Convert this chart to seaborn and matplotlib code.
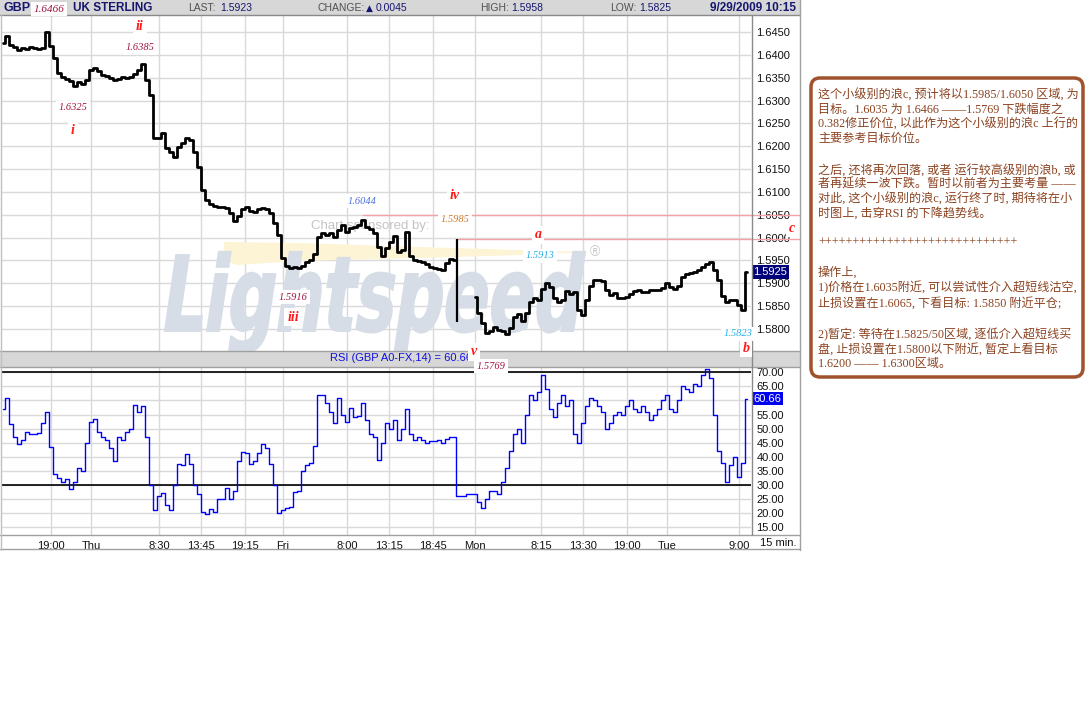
import matplotlib
matplotlib.use("Agg")
import numpy as np
import pandas as pd
import matplotlib.pyplot as plt
import seaborn as sns
from matplotlib import font_manager as fm
from matplotlib.patches import Rectangle, FancyBboxPatch, Polygon, PathPatch
from matplotlib.lines import Line2D
from matplotlib.textpath import TextPath
from matplotlib.font_manager import FontProperties
from matplotlib.transforms import Affine2D, blended_transform_factory

# ---------------- data ----------------
# chart clock: hours since Wed 00:00, weekend removed (Mon 00:00 -> 72)
wed_fri_start = 13.0
mon_tue_start = 72.0
bar_step = 0.5  # 30-minute samples

price_wed_fri = [
    1.6426, 1.6442, 1.6422, 1.6417, 1.6411, 1.6415, 1.6413, 1.6417, 1.6415, 1.6413,
    1.6415, 1.6450, 1.6420, 1.6393, 1.6360, 1.6352, 1.6347, 1.6343, 1.6332, 1.6341,
    1.6336, 1.6345, 1.6367, 1.6371, 1.6365, 1.6356, 1.6354, 1.6349, 1.6345, 1.6347,
    1.6352, 1.6349, 1.6352, 1.6358, 1.6367, 1.6380, 1.6345, 1.6312, 1.6218, 1.6218,
    1.6229, 1.6196, 1.6187, 1.6176, 1.6198, 1.6207, 1.6218, 1.6214, 1.6187, 1.6155,
    1.6104, 1.6082, 1.6074, 1.6069, 1.6067, 1.6067, 1.6065, 1.6054, 1.6036, 1.6047,
    1.6063, 1.6067, 1.6058, 1.6056, 1.6063, 1.6065, 1.6063, 1.6054, 1.6032, 1.6006,
    1.5955, 1.5938, 1.5933, 1.5936, 1.5933, 1.5938, 1.5947, 1.5951, 1.5964, 1.6001,
    1.6010, 1.6006, 1.6010, 1.6001, 1.6017, 1.6028, 1.6012, 1.6021, 1.6023, 1.6028,
    1.6039, 1.6023, 1.6019, 1.6010, 1.5980, 1.5960, 1.5977, 1.5990, 1.6003, 1.5968,
    1.5973, 1.6012, 1.5960, 1.5951, 1.5949, 1.5947, 1.5942, 1.5936, 1.5933, 1.5931,
    1.5929, 1.5944, 1.5953, 1.5951,
]
rsi_wed_fri = [
    57, 61, 51.5, 47, 44.5, 46, 49, 48, 48, 48.5,
    52, 56, 43.5, 34, 32.5, 31, 32, 28.5, 31, 36,
    35, 45, 52.5, 53.5, 49, 47, 46, 43, 38.5, 47,
    46, 49, 50, 58.4, 56, 58, 47, 30, 21, 26,
    27.2, 23, 21, 30, 37.5, 37, 41, 37.5, 30, 27,
    20.5, 19.8, 21.5, 20.5, 25, 25, 29, 25, 28, 38.5,
    41.7, 41.5, 37.5, 38.5, 41.5, 44.5, 43, 37.5, 30, 20,
    21, 22, 22.4, 27.7, 28, 35, 37, 38, 44, 62,
    62, 59, 56, 52, 61, 55, 52.5, 57.5, 54, 54.5,
    59, 53, 48, 47, 39, 45, 52, 50, 53, 46,
    50, 57, 48, 46, 47, 46, 45, 45.5, 45.5, 46,
    45, 46.5, 47, 47,
]
price_mon_tue = [
    1.5870, 1.5835, 1.5813, 1.5791, 1.5796, 1.5804, 1.5798, 1.5796, 1.5789, 1.5802,
    1.5826, 1.5833, 1.5817, 1.5835, 1.5859, 1.5868, 1.5863, 1.5888, 1.5901, 1.5892,
    1.5868, 1.5859, 1.5863, 1.5883, 1.5876, 1.5881, 1.5842, 1.5831, 1.5863, 1.5894,
    1.5907, 1.5907, 1.5905, 1.5885, 1.5874, 1.5879, 1.5868, 1.5868, 1.5870, 1.5876,
    1.5883, 1.5885, 1.5881, 1.5881, 1.5885, 1.5885, 1.5885, 1.5890, 1.5901, 1.5892,
    1.5888, 1.5894, 1.5914, 1.5920, 1.5923, 1.5925, 1.5929, 1.5936, 1.5942, 1.5947,
    1.5929, 1.5907, 1.5872, 1.5859, 1.5863, 1.5863, 1.5852, 1.5842, 1.5925,
]
rsi_mon_tue = [
    27, 24, 22, 25, 28, 28, 27, 31, 36, 42,
    48, 50, 45, 55, 62, 60, 63, 69, 64, 57,
    54, 59, 62, 58, 60, 48, 45, 52, 58, 61,
    60, 58, 56, 50, 52, 55, 56, 55, 58, 60,
    57, 56, 58, 56, 53, 55, 57, 60, 62, 57,
    56, 60, 65, 64, 63, 66, 65, 69, 71, 68,
    55, 42, 38, 31, 37, 40, 33, 38, 60.66,
]
# Friday-close spike bar (21:45)
fri_spike_hour = [69.75]
fri_spike_high = [1.5996]
fri_spike_low = [1.5815]
fri_spike_rsi = [26.0]

tick_hours = [19, 24, 32.5, 37.75, 43.25, 48, 56, 61.25, 66.75, 72, 80.25, 85.5, 91, 96, 105]
tick_labels = ['19:00', 'Thu', '8:30', '13:45', '19:15', 'Fri', '8:00', '13:15', '18:45',
               'Mon', '8:15', '13:30', '19:00', 'Tue', '9:00']
price_ticks = [1.5800, 1.5850, 1.5900, 1.5950, 1.6000, 1.6050, 1.6100, 1.6150,
               1.6200, 1.6250, 1.6300, 1.6350, 1.6400, 1.6450]
rsi_ticks = [15, 20, 25, 30, 35, 40, 45, 50, 55, 60, 65, 70]
rsi_bands = [30, 70]
target_levels = [1.6050, 1.5996]
target_start = [58.0, 69.75]
last_price = 1.5925
last_rsi = 60.66

note_lines = [
    "这个小级别的浪c, 预计将以1.5985/1.6050 区域, 为",
    "目标。1.6035 为 1.6466 ——1.5769 下跌幅度之",
    "0.382修正价位, 以此作为这个小级别的浪c 上行的",
    "主要参考目标价位。",
    "之后, 还将再次回落, 或者 运行较高级别的浪b, 或",
    "者再延续一波下跌。暂时以前者为主要考量 ——",
    "对此, 这个小级别的浪c, 运行终了时, 期待将在小",
    "时图上, 击穿RSI 的下降趋势线。",
    "+++++++++++++++++++++++++++++",
    "操作上,",
    "1)价格在1.6035附近, 可以尝试性介入超短线沽空,",
    "止损设置在1.6065, 下看目标: 1.5850 附近平仓;",
    "2)暂定: 等待在1.5825/50区域, 逐低介入超短线买",
    "盘, 止损设置在1.5800以下附近, 暂定上看目标",
    "1.6200 —— 1.6300区域。",
]

# ---------------- figure ----------------
W, H = 1088, 725
sns.set_style("white")
names = {f.name for f in fm.fontManager.ttflist}
SANS = 'Liberation Sans' if 'Liberation Sans' in names else 'DejaVu Sans'
NARROW = 'Liberation Sans Narrow' if 'Liberation Sans Narrow' in names else SANS
SERIF = 'Liberation Serif' if 'Liberation Serif' in names else 'DejaVu Serif'
plt.rcParams['font.family'] = [SANS, 'DejaVu Sans']

fig = plt.figure(figsize=(W / 100, H / 100), dpi=100)
fig.patch.set_facecolor('white')
pix = Affine2D().scale(1.0 / W, -1.0 / H).translate(0, 1) + fig.transFigure


def ftext(x, y, s, **kw):
    kw.setdefault('va', 'center')
    return fig.text(x / W, 1 - y / H, s, **kw)


def fline(xs, ys, **kw):
    fig.add_artist(Line2D(xs, ys, transform=pix, **kw))


NAVY = '#16166e'
GRAYTXT = '#505050'

# header bar and other bands
fig.add_artist(Rectangle((0, 0), 800, 15, transform=pix, facecolor='#d7d7d7', edgecolor='none', zorder=0.1))
fig.add_artist(Rectangle((0, 351), 800, 16, transform=pix, facecolor='#d7d7d7', edgecolor='none', zorder=0.1))

axp = fig.add_axes([1 / W, 1 - 351 / H, 750 / W, (351 - 16) / H])
axr = fig.add_axes([1 / W, 1 - 535 / H, 750 / W, (535 - 368) / H])

hours1 = wed_fri_start + bar_step * np.arange(len(price_wed_fri))
hours2 = mon_tue_start + bar_step * np.arange(len(price_mon_tue))

df_price = pd.DataFrame({
    'hour': np.concatenate([hours1, hours2]),
    'price': price_wed_fri + price_mon_tue,
    'session': ['wed-fri'] * len(hours1) + ['mon-tue'] * len(hours2),
})
df_rsi = pd.DataFrame({
    'hour': np.concatenate([hours1, fri_spike_hour, hours2]),
    'rsi': rsi_wed_fri + fri_spike_rsi + rsi_mon_tue,
})

# ---------- price panel ----------
for ax in (axp, axr):
    ax.set_facecolor('white')
    for s in ax.spines.values():
        s.set_visible(False)
    ax.set_xlim(12.75, 106.5)
    ax.set_xticks(tick_hours)
    ax.grid(True, color='#d9d9d9', lw=1.0, zorder=0)
    ax.set_axisbelow(True)
    ax.yaxis.tick_right()
    ax.tick_params(axis='both', length=0, labelsize=8, colors='#111111')

axp.set_ylim(1.575184, 1.648502)
axp.set_yticks(price_ticks)
axp.set_yticklabels([f"{v:.4f}" for v in price_ticks])
axp.tick_params(axis='y', pad=4)
axp.tick_params(axis='x', labelbottom=False)

# watermark (behind price bars)
tp = TextPath((0, 0), "Lightspeed", size=100, prop=FontProperties(family='DejaVu Sans', weight='bold'))
sk = Affine2D().skew_deg(13, 0)
bb = sk.transform_path(tp).get_extents()
sx = 420.0 / bb.width
sy = 76.0 / 73.0
wm = PathPatch(tp, transform=sk + Affine2D().translate(-bb.x0, 0).scale(sx, -sy).translate(165, 331) + pix,
               facecolor='#d6dde7', edgecolor='#d6dde7', lw=1.5, zorder=0.8)
wm.set_clip_on(False)
axp.add_artist(wm)
swoosh = Polygon([(224, 242), (300, 243), (420, 247), (520, 250), (590, 252), (520, 255),
                  (420, 258), (300, 261), (236, 265), (224, 260)],
                 closed=True, transform=pix, facecolor='#fdf4d6', edgecolor='none', zorder=0.7)
swoosh.set_clip_on(False)
axp.add_artist(swoosh)
axp.text(310 / 750, 1 - (226 - 16) / 335, "Chart sponsored by:", transform=axp.transAxes,
         fontsize=9.5, color='#c4c4c4', va='center', ha='left', zorder=0.9)
axp.text(594 / 750, 1 - (252 - 16) / 335, "®", transform=axp.transAxes,
         fontsize=10, color='#c8c8c8', va='center', ha='center', zorder=0.9)

sns.lineplot(data=df_price, x='hour', y='price', units='session', estimator=None,
             color='black', linewidth=2.0, ax=axp, legend=False, zorder=3, drawstyle='steps-mid')
axp.vlines(fri_spike_hour, fri_spike_low, fri_spike_high, color='black', lw=1.6, zorder=3)

# target levels (pink lines reaching into the scale column)
for lvl, st in zip(target_levels, target_start):
    axp.plot([st, 112.6], [lvl, lvl], color='#f3a3a8', lw=1.0, zorder=2.5, clip_on=False)

# last price box
axp.text(1.003, last_price, f"{last_price:.4f}", transform=blended_transform_factory(axp.transAxes, axp.transData),
         fontsize=8, color='white', va='center', ha='left', zorder=6,
         bbox=dict(facecolor='#00007a', edgecolor='none', boxstyle='square,pad=0.15'))
axp.set_xlabel('')
axp.set_ylabel('')

# ---------- RSI panel ----------
axr.set_ylim(12.3, 71.52)
axr.set_yticks(rsi_ticks)
# the 60.00 label sits under the current-value box, as in the reference
axr.set_yticklabels([f"{v:.2f}" if v != 60 else "" for v in rsi_ticks])
axr.tick_params(axis='y', pad=4)
axr.set_xticklabels(tick_labels, fontsize=8, family=NARROW)
axr.tick_params(axis='x', pad=4)
for b in rsi_bands:
    axr.axhline(b, color='black', lw=1.2, zorder=2)
sns.lineplot(data=df_rsi, x='hour', y='rsi', estimator=None,
             color='#0000ff', linewidth=1.0, ax=axr, legend=False, zorder=3, drawstyle='steps-mid')
axr.text(1.003, last_rsi, f"{last_rsi:.2f}", transform=blended_transform_factory(axr.transAxes, axr.transData),
         fontsize=8, color='white', va='center', ha='left', zorder=6,
         bbox=dict(facecolor='#0000f0', edgecolor='none', boxstyle='square,pad=0.15'))
axr.set_xlabel('')
axr.set_ylabel('')

# frame lines
fline([0, 800], [15.5, 15.5], color='#8a8a8a', lw=1)
fline([0, 800], [351, 351], color='#a0a0a0', lw=1)
fline([0, 800], [367, 367], color='#a0a0a0', lw=1)
fline([0, 800], [535.5, 535.5], color='#a0a0a0', lw=1)
fline([0, 800], [549.5, 549.5], color='#a0a0a0', lw=1)
fline([751.5, 751.5], [15, 535], color='#8a8a8a', lw=1)
fline([799.5, 799.5], [0, 550], color='#a0a0a0', lw=1)
fline([0.5, 0.5], [15, 550], color='#c0c0c0', lw=1)

# ---------- header texts ----------
ftext(3, 8, "GBP", fontsize=9, fontweight='bold', color=NAVY, ha='left')
ftext(49, 9, "1.6466", fontsize=8, style='italic', family=SERIF, color='#a0123c', ha='center',
      bbox=dict(facecolor='white', edgecolor='none', pad=1.5))
ftext(73, 8, "UK STERLING", fontsize=8.5, fontweight='bold', color=NAVY, ha='left')
ftext(188, 8, "LAST:", fontsize=7.5, color=GRAYTXT, ha='left')
ftext(220, 8, "1.5923", fontsize=7.5, color=NAVY, ha='left')
ftext(318, 8, "CHANGE:", fontsize=7.5, color=GRAYTXT, ha='left')
ftext(366, 8, "▲", fontsize=6.5, color=NAVY, ha='left', family=['DejaVu Sans'])
ftext(376, 8, "0.0045", fontsize=7.5, color=NAVY, ha='left')
ftext(480, 8, "HIGH:", fontsize=7.5, color=GRAYTXT, ha='left')
ftext(511, 8, "1.5958", fontsize=7.5, color=NAVY, ha='left')
ftext(610, 8, "LOW:", fontsize=7.5, color=GRAYTXT, ha='left')
ftext(639, 8, "1.5825", fontsize=7.5, color=NAVY, ha='left')
ftext(796, 8, "9/29/2009 10:15", fontsize=8.5, fontweight='bold', color=NAVY, ha='right')

ftext(401, 358, "RSI (GBP A0-FX,14) = 60.66", fontsize=8, color='#1010e0', ha='center')
ftext(778, 543, "15 min.", fontsize=8, color='#111111', ha='center', family=NARROW)

# ---------- wave labels ----------
RED = '#ff1a1a'
WB = dict(facecolor='white', edgecolor='none', pad=2)
wave = [("ii", 140, 27), ("i", 73, 130), ("iii", 293, 317), ("iv", 455, 196),
        ("v", 474, 352), ("a", 538, 235), ("b", 746, 348), ("c", 792, 228)]
for s, x, y in wave:
    ftext(x, y, s, fontsize=10, style='italic', fontweight='bold', family=SERIF, color=RED,
          ha='center', zorder=7, bbox=WB)
vals = [("1.6385", 140, 48, '#a0123c'), ("1.6325", 73, 108, '#a0123c'),
        ("1.5916", 293, 297, '#a0123c'), ("1.5769", 491, 366, '#a0123c'),
        ("1.6044", 362, 201, '#4a6ee0'), ("1.5985", 455, 220, '#c8782a'),
        ("1.5913", 540, 256, '#22aee6'), ("1.5823", 738, 334, '#22aee6')]
for s, x, y, c in vals:
    ftext(x, y, s, fontsize=7.5, style='italic', family=SERIF, color=c, ha='center', zorder=7,
          bbox=WB)

# ---------- note box ----------
fig.add_artist(FancyBboxPatch((811, 78), 272, 299, boxstyle='round,pad=0,rounding_size=9',
                              transform=pix, facecolor='white', edgecolor='#a0522d', lw=2.5, zorder=1))
note_y = [95, 109.5, 124, 138.5, 171, 185, 199, 213, 243, 273, 288, 303, 335, 349.5, 364]
for s, y in zip(note_lines, note_y):
    ftext(818, y, s, fontsize=8.7, color='#8b4220', ha='left',
          family=[SERIF, 'Noto Sans CJK SC', 'DejaVu Sans'], zorder=2)

fig.savefig("out.png", dpi=100, facecolor='white')
